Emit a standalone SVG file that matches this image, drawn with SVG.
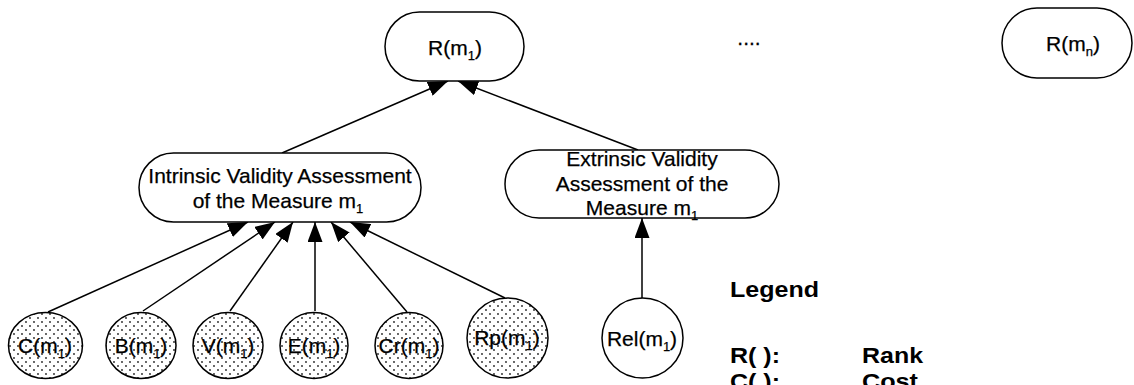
<svg xmlns="http://www.w3.org/2000/svg" width="1134" height="385" viewBox="0 0 1134 385">
  <style>
    .box { fill: #fff; stroke: #000; stroke-width: 1.5; }
    .dotted { fill: url(#dots); stroke: #000; stroke-width: 1.5; }
    .plain { fill: #fff; stroke: #000; stroke-width: 1.5; }
    .lbl { font-family: "Liberation Sans", Arial, sans-serif; font-size: 21px; fill: #000; stroke: #000; stroke-width: 0.25; text-anchor: middle; }
    .sub { font-size: 13px; }
    .edge { stroke: #000; stroke-width: 1.5; fill: none; marker-end: url(#head); }
    .legend { font-family: "Liberation Sans", Arial, sans-serif; font-weight: bold; font-size: 22px; fill: #000; }
  </style>
  <defs>
    <pattern id="dots" width="8" height="8" patternUnits="userSpaceOnUse">
      <rect width="8" height="8" fill="#fff"/>
      <circle cx="2" cy="2" r="0.9" fill="#222"/>
      <circle cx="6" cy="6" r="0.9" fill="#222"/>
    </pattern>
    <marker id="head" markerUnits="userSpaceOnUse" markerWidth="20" markerHeight="15" refX="20" refY="7.5" orient="auto">
      <path d="M0,0 L20,7.5 L0,15 Z" fill="#000"/>
    </marker>
  </defs>

  <!-- connectors -->
  <g id="connectors">
    <line class="edge" x1="282" y1="153" x2="448" y2="81"/>
    <line class="edge" x1="638" y1="150" x2="458" y2="81"/>
    <line class="edge" x1="48" y1="312" x2="248" y2="222"/>
    <line class="edge" x1="143" y1="311" x2="275" y2="222"/>
    <line class="edge" x1="230" y1="311" x2="293" y2="222"/>
    <line class="edge" x1="315" y1="311" x2="315" y2="222"/>
    <line class="edge" x1="407" y1="312" x2="331" y2="222"/>
    <line class="edge" x1="505" y1="298" x2="350" y2="222"/>
    <line class="edge" x1="642" y1="298" x2="642" y2="218"/>
  </g>

  <!-- rank nodes -->
  <g id="rank-m1">
    <rect class="box" x="385" y="12" width="139" height="69" rx="34.5"/>
    <text class="lbl" x="455" y="55">R(m<tspan class="sub" dy="5">1</tspan><tspan dy="-5">)</tspan></text>
  </g>
  <g id="ellipsis">
    <text class="lbl" x="749" y="45">....</text>
  </g>
  <g id="rank-mn">
    <rect class="box" x="1002" y="8" width="130" height="70" rx="35"/>
    <text class="lbl" x="1073" y="51">R(m<tspan class="sub" dy="5">n</tspan><tspan dy="-5">)</tspan></text>
  </g>

  <!-- assessment nodes -->
  <g id="intrinsic">
    <rect class="box" x="139" y="153" width="282" height="69" rx="34.5"/>
    <text class="lbl" x="280" y="183">Intrinsic Validity Assessment</text>
    <text class="lbl" x="278" y="208">of the Measure m<tspan class="sub" dy="5">1</tspan></text>
  </g>
  <g id="extrinsic">
    <rect class="box" x="505" y="150" width="274" height="68" rx="34"/>
    <text class="lbl" x="642" y="166">Extrinsic Validity</text>
    <text class="lbl" x="642" y="191">Assessment of the</text>
    <text class="lbl" x="642" y="215">Measure m<tspan class="sub" dy="5">1</tspan></text>
  </g>

  <!-- criterion nodes -->
  <g id="cost">
    <ellipse class="dotted" cx="45.5" cy="345.5" rx="37" ry="33"/>
    <text class="lbl" x="45" y="353">C(m<tspan class="sub" dy="5">1</tspan><tspan dy="-5">)</tspan></text>
  </g>
  <g id="b-node">
    <ellipse class="dotted" cx="141" cy="345.5" rx="35" ry="33"/>
    <text class="lbl" x="141" y="353">B(m<tspan class="sub" dy="5">1</tspan><tspan dy="-5">)</tspan></text>
  </g>
  <g id="v-node">
    <ellipse class="dotted" cx="228" cy="345.5" rx="35" ry="33"/>
    <text class="lbl" x="228" y="353">V(m<tspan class="sub" dy="5">1</tspan><tspan dy="-5">)</tspan></text>
  </g>
  <g id="e-node">
    <ellipse class="dotted" cx="314" cy="345.5" rx="34" ry="33"/>
    <text class="lbl" x="314" y="353">E(m<tspan class="sub" dy="5">1</tspan><tspan dy="-5">)</tspan></text>
  </g>
  <g id="cr-node">
    <ellipse class="dotted" cx="409" cy="345.5" rx="34" ry="33"/>
    <text class="lbl" x="409" y="353">Cr(m<tspan class="sub" dy="5">1</tspan><tspan dy="-5">)</tspan></text>
  </g>
  <g id="rp-node">
    <ellipse class="dotted" cx="507.5" cy="338" rx="40.5" ry="40"/>
    <text class="lbl" x="507" y="345">Rp(m<tspan class="sub" dy="5">1</tspan><tspan dy="-5">)</tspan></text>
  </g>
  <g id="rel-node">
    <ellipse class="plain" cx="642.5" cy="338" rx="40.5" ry="40"/>
    <text class="lbl" x="642" y="346">Rel(m<tspan class="sub" dy="5">1</tspan><tspan dy="-5">)</tspan></text>
  </g>

  <!-- legend -->
  <g id="legend">
    <text class="legend" x="730" y="297" textLength="89" lengthAdjust="spacingAndGlyphs">Legend</text>
    <text class="legend" x="730" y="363" textLength="50" lengthAdjust="spacingAndGlyphs">R( ):</text>
    <text class="legend" x="862" y="363" textLength="61" lengthAdjust="spacingAndGlyphs">Rank</text>
    <text class="legend" x="730" y="389" textLength="50" lengthAdjust="spacingAndGlyphs">C( ):</text>
    <text class="legend" x="862" y="389" textLength="56" lengthAdjust="spacingAndGlyphs">Cost</text>
  </g>
</svg>
